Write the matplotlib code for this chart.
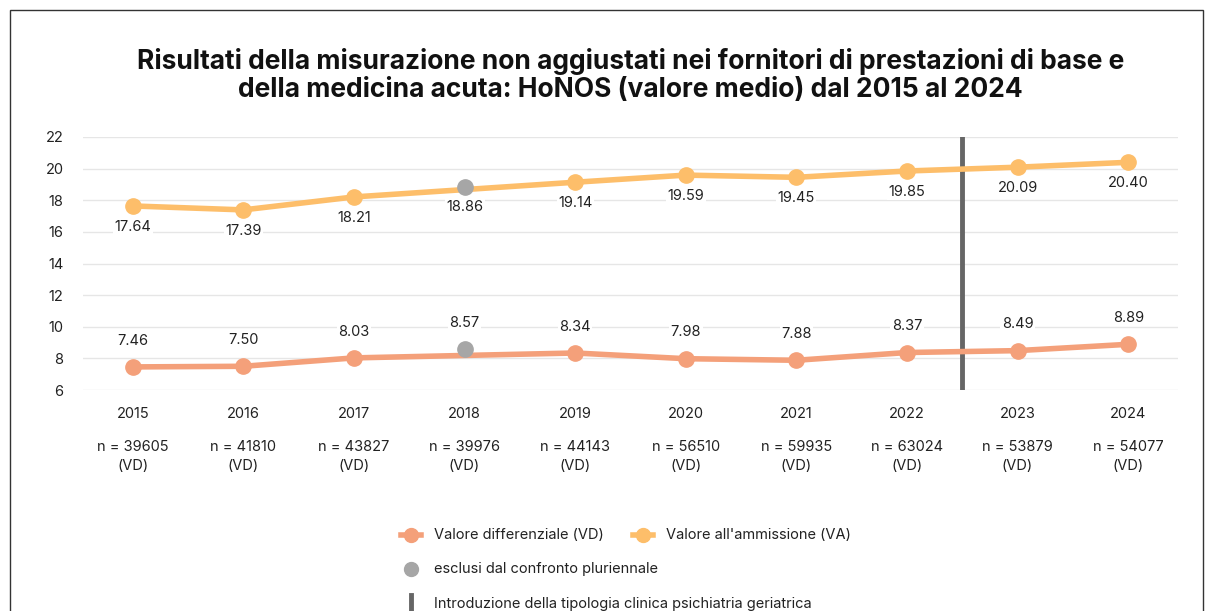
import matplotlib.pyplot as plt
from matplotlib.lines import Line2D
from matplotlib.patches import Rectangle

plt.rcParams['font.family'] = ['Inter', 'DejaVu Sans']

# Dati
anni = ['2015', '2016', '2017', '2018', '2019', '2020', '2021', '2022', '2023', '2024']
valore_ammissione = [17.64, 17.39, 18.21, 18.86, 19.14, 19.59, 19.45, 19.85, 20.09, 20.40]
valore_differenziale = [7.46, 7.50, 8.03, 8.57, 8.34, 7.98, 7.88, 8.37, 8.49, 8.89]
n_casi = [39605, 41810, 43827, 39976, 44143, 56510, 59935, 63024, 53879, 54077]
anni_esclusi = ['2018']
y_ticks = [6, 8, 10, 12, 14, 16, 18, 20, 22]

col_va = '#FDBE6A'
col_vd = '#F4A07A'
col_grigio = '#A6A6A6'
col_linea = '#666666'

fig = plt.figure(figsize=(12.05, 6.11), dpi=100)
ax = fig.add_axes([83 / 1205, 1 - 390 / 611, 1095 / 1205, 253 / 611])

x = list(range(len(anni)))
incl = [i for i, a in enumerate(anni) if a not in anni_esclusi]
escl = [i for i, a in enumerate(anni) if a in anni_esclusi]

for valori, col, off in [(valore_ammissione, col_va, -15), (valore_differenziale, col_vd, 19)]:
    ax.plot([x[i] for i in incl], [valori[i] for i in incl], color=col, lw=4,
            marker='o', ms=11, solid_capstyle='round', zorder=3)
    ax.plot([x[i] for i in escl], [valori[i] for i in escl], 'o', color=col_grigio,
            ms=11, zorder=4)
    for i, v in enumerate(valori):
        ax.annotate(f'{v:.2f}', (x[i], v), xytext=(0, off), textcoords='offset points',
                    ha='center', va='center', fontsize=10.5, color='#222222',
                    bbox=dict(boxstyle='square,pad=0.1', fc='white', ec='none'), zorder=5)

# linea verticale: introduzione psichiatria geriatrica
ax.plot([7.5, 7.5], [6, 22], color=col_linea, lw=3.5, zorder=2)

ax.set_xlim(-0.45, 9.45)
ax.set_ylim(6, 22)
ax.set_yticks(y_ticks)
ax.set_yticklabels([str(t) for t in y_ticks], fontsize=10.5, color='#222222')
ax.set_xticks(x)
ax.set_xticklabels(anni, fontsize=10.5, color='#222222')
ax.tick_params(length=0, axis='y', pad=14)
ax.tick_params(length=0, axis='x', pad=12)
ax.grid(axis='y', color='#E6E6E6', lw=1)
ax.set_axisbelow(True)
for s in ax.spines.values():
    s.set_visible(False)

for i, n in enumerate(n_casi):
    ax.text(x[i], -0.262, f'n = {n}\n(VD)', transform=ax.get_xaxis_transform(),
            ha='center', va='center', fontsize=10.5, color='#222222', linespacing=1.45)

fig.text(0.523, 0.877, 'Risultati della misurazione non aggiustati nei fornitori di prestazioni di base e\n'
         'della medicina acuta: HoNOS (valore medio) dal 2015 al 2024',
         ha='center', va='center', fontsize=19, fontweight='bold', linespacing=1.1,
         color='#111111')

# legenda
def voce(px, py, testo, tipo, col):
    fx, fy = px / 1205, 1 - py / 611
    if tipo == 'linea':
        fig.add_artist(Line2D([fx - 0.008, fx + 0.008], [fy, fy], color=col, lw=4,
                              transform=fig.transFigure))
        fig.add_artist(Line2D([fx], [fy], marker='o', color=col, ms=10, transform=fig.transFigure))
    elif tipo == 'punto':
        fig.add_artist(Line2D([fx], [fy], marker='o', color=col, ms=10, lw=0, transform=fig.transFigure))
    else:
        fig.add_artist(Line2D([fx, fx], [fy - 0.014, fy + 0.014], color=col, lw=3.5,
                              transform=fig.transFigure))
    fig.text(fx + 0.019, fy, testo, ha='left', va='center', fontsize=10.5, color='#222222')

voce(411, 535, 'Valore differenziale (VD)', 'linea', col_vd)
voce(643, 535, "Valore all'ammissione (VA)", 'linea', col_va)
voce(411, 569, 'esclusi dal confronto pluriennale', 'punto', col_grigio)
voce(411, 604, 'Introduzione della tipologia clinica psichiatria geriatrica', 'barra', col_linea)

# cornice
fig.add_artist(Rectangle((10 / 1205, -0.1), 1193 / 1205, 1.1 - 10 / 611, fill=False,
                         ec='#333333', lw=1, transform=fig.transFigure))

fig.savefig('out.png', dpi=100)
